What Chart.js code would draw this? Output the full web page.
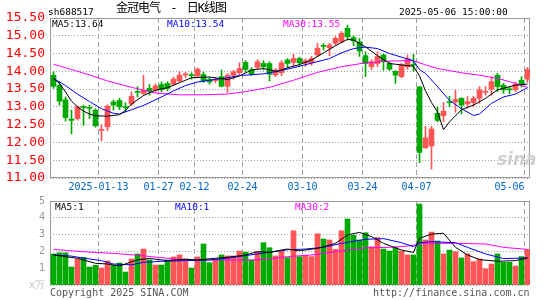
<!DOCTYPE html>
<html>
<head>
<meta charset="utf-8">
<script src="https://cdn.jsdelivr.net/npm/chart.js@4.4.1/dist/chart.umd.min.js"></script>
<style>
body{margin:0;background:#fff}
#wrap{position:relative;width:545px;height:300px;overflow:hidden;background:#fff}
canvas{position:absolute;left:0}
.t{position:absolute;font:9.5px/1 'DejaVu Sans Mono',monospace;white-space:pre;color:#000}
</style>
</head>
<body>
<div id="wrap">
<canvas id="kline" width="545" height="196" style="top:0"></canvas>
<canvas id="vol" width="545" height="110" style="top:190px"></canvas>
<span class="t" style="left:48px;top:7px">sh688517</span>
<span class="t" style="left:116px;top:2px;font:12px/1 'DejaVu Sans Mono','Noto Sans CJK SC';word-spacing:4px;letter-spacing:-1px">金冠电气 - 日K线图</span>
<span class="t" style="left:399px;top:7px">2025-05-06 15:00:00</span>
<span class="t" id="lg5" style="left:52px;top:19px;color:#000"></span>
<span class="t" id="lg10" style="left:167px;top:19px;color:#00f"></span>
<span class="t" id="lg30" style="left:283px;top:19px;color:#f0f"></span>
<span class="t" id="vlg5" style="left:55px;top:202px;color:#000"></span>
<span class="t" id="vlg10" style="left:175px;top:202px;color:#00f"></span>
<span class="t" id="vlg30" style="left:295px;top:202px;color:#f0f"></span>
<span class="t" style="left:497px;top:151px;font:italic bold 17px/1 'DejaVu Sans',sans-serif;color:#cfcfcf">sina</span>
<span class="t" style="left:50px;top:288px;font-size:10px;color:#555">Copyright 2025 SINA.COM</span>
<span class="t" style="left:373px;top:288px;font-size:10px;color:#555">http://finance.sina.com.cn</span>
</div>
<script>
// 日K 数据 (2024-12-31 ~ 2025-05-06)
const opens = [13.89,13.60,13.20,12.66,12.67,13.00,12.98,12.91,12.34,12.44,
  13.14,13.18,13.00,13.08,13.43,13.38,13.52,13.47,13.63,13.66,
  13.64,13.73,13.90,13.90,13.87,13.91,13.77,13.74,13.85,13.58,
  13.89,13.96,14.25,14.04,14.11,14.22,14.22,13.90,13.96,14.32,
  14.25,14.36,14.23,14.24,14.46,14.72,14.66,14.79,14.83,15.21,
  14.95,14.83,14.44,14.13,14.22,14.46,14.22,14.00,13.85,14.13,
  14.19,13.56,11.85,11.90,12.82,12.75,13.14,13.14,13.24,13.08,
  13.12,13.24,13.41,13.50,13.89,13.61,13.50,13.49,13.75,13.78];
const highs = [13.99,13.71,13.28,12.91,13.03,13.05,13.05,12.95,12.50,13.06,
  13.19,13.24,13.12,13.42,13.57,13.89,13.63,13.65,13.70,13.71,
  13.84,13.99,13.97,13.96,14.10,13.98,13.83,13.82,14.04,13.94,
  14.03,14.24,14.30,14.10,14.33,14.30,14.27,14.08,14.30,14.36,
  14.48,14.40,14.35,14.42,14.79,14.78,14.79,14.98,15.12,15.30,
  15.00,14.93,14.55,14.33,14.55,14.48,14.27,14.02,14.22,14.46,
  14.48,13.58,12.45,12.45,13.00,13.12,13.30,13.47,13.26,13.29,
  13.30,13.57,13.57,13.85,13.94,13.66,13.57,13.70,13.85,14.11];
const lows = [13.52,13.05,12.60,12.24,12.63,12.48,12.67,12.43,12.05,12.33,
  12.91,12.92,12.86,13.05,13.28,13.35,13.33,13.41,13.42,13.45,
  13.62,13.69,13.82,13.78,13.83,13.69,13.64,13.68,13.56,13.40,
  13.78,13.90,13.98,13.88,14.06,14.04,13.73,13.85,13.88,14.10,
  14.13,14.15,14.14,14.17,14.41,14.60,14.44,14.74,14.80,14.88,
  14.72,14.42,13.85,14.05,14.13,14.03,14.03,13.66,13.82,14.06,
  14.00,11.43,11.83,11.25,12.58,12.58,13.00,12.85,12.80,12.97,
  13.00,13.10,13.33,13.33,13.43,13.38,13.37,13.42,13.56,13.69];
const closes = [13.58,13.16,12.70,12.62,13.00,12.98,12.96,12.47,12.37,13.02,
  13.05,13.00,12.98,13.30,13.41,13.47,13.44,13.59,13.49,13.52,
  13.78,13.89,13.93,13.88,14.06,13.73,13.70,13.76,13.58,13.89,
  13.99,14.08,14.05,13.93,14.27,14.13,13.92,14.04,14.24,14.22,
  14.36,14.24,14.30,14.36,14.65,14.70,14.74,14.93,15.07,14.97,
  14.86,14.57,14.22,14.27,14.42,14.27,14.06,13.89,14.19,14.35,
  14.17,11.72,12.13,12.38,12.62,12.88,13.12,13.21,13.05,13.15,
  13.24,13.48,13.43,13.71,13.57,13.48,13.48,13.64,13.64,14.05];
// 成交量
const volumes = [1.85,1.92,1.92,1.07,1.55,1.65,1.07,1.17,1.01,1.43,
  1.17,1.31,0.77,1.55,1.85,2.14,1.49,1.19,1.19,1.49,
  1.67,1.79,1.55,1.01,1.67,2.44,1.33,1.51,1.79,1.73,
  1.73,2.02,1.96,1.49,1.99,2.52,2.22,1.73,2.04,1.63,
  3.23,1.69,1.77,1.69,3.05,2.74,2.68,2.12,3.23,3.93,
  2.96,2.68,3.11,2.28,2.82,2.14,2.02,2.22,2.02,1.79,
  1.79,4.82,2.68,3.15,2.62,1.85,2.08,1.98,1.61,1.85,
  1.39,1.55,0.97,1.25,1.85,1.35,1.35,1.13,1.69,2.12];

// 均线 [index, value]
const ma5 = [[0,13.80],[1,13.66],[2,13.42],[3,13.16],[4,13.00],[5,12.88],[6,12.80],[7,12.75],[9,12.74],
  [11,12.78],[12,12.90],[13,13.08],[15,13.32],[17,13.47],[19,13.54],[21,13.68],[23,13.82],[26,13.84],
  [29,13.77],[31,13.87],[33,14.04],[35,14.08],[37,14.00],[38,14.04],[39,14.10],[41,14.19],[43,14.32],
  [45,14.52],[47,14.72],[49,14.90],[50,14.88],[52,14.69],[54,14.44],[56,14.22],[58,14.18],[60,14.14],
  [61,13.87],[62,13.45],[63,13.12],[64,12.86],[65,12.36],[66,12.58],[68,12.92],[70,13.05],[72,13.24],
  [74,13.48],[77,13.61],[79,13.64]];
const ma10 = [[0,13.80],[2,13.60],[4,13.36],[6,13.15],[8,12.95],[10,12.82],[11,12.80],[13,12.92],[15,13.04],
  [18,13.28],[20,13.45],[22,13.60],[24,13.70],[26,13.75],[29,13.82],[31,13.88],[35,13.93],[37,13.99],
  [40,14.10],[43,14.23],[46,14.36],[48,14.52],[50,14.64],[52,14.68],[54,14.64],[56,14.50],[58,14.40],
  [60,14.30],[61,14.05],[62,13.94],[64,13.57],[66,13.18],[68,12.95],[70,12.76],[71,12.80],[73,13.10],
  [75,13.28],[77,13.36],[79,13.54]];
const ma30 = [[0,14.20],[3,14.05],[6,13.90],[9,13.73],[13,13.55],[17,13.39],[21,13.34],[25,13.34],[29,13.36],
  [32,13.43],[36,13.55],[40,13.75],[44,13.97],[48,14.13],[52,14.24],[56,14.29],[60,14.30],[62,14.18],
  [64,14.08],[66,14.02],[68,13.96],[71,13.89],[74,13.80],[76,13.71],[79,13.55]];
const vma5 = [[0,1.79],[2,1.69],[4,1.59],[7,1.29],[9,1.25],[11,1.13],[14,1.50],[16,1.58],[19,1.45],[22,1.53],
  [24,1.49],[27,1.59],[30,1.69],[32,1.79],[34,1.98],[36,1.94],[38,2.08],[39,2.14],[41,2.04],[44,2.18],
  [47,2.48],[49,2.98],[51,3.13],[53,2.88],[55,2.48],[58,2.08],[60,1.94],[61,2.78],[63,3.03],[65,3.08],
  [67,2.24],[69,1.79],[71,1.51],[74,1.41],[77,1.45],[79,1.61]];
const vma10 = [[0,1.79],[3,1.72],[5,1.60],[8,1.45],[10,1.25],[13,1.20],[15,1.35],[18,1.41],[22,1.45],
  [26,1.49],[29,1.59],[32,1.75],[36,1.95],[39,2.10],[42,2.14],[45,2.24],[48,2.48],[52,2.72],[55,2.76],
  [58,2.52],[60,2.28],[61,2.52],[63,2.58],[67,2.52],[69,2.24],[72,1.85],[75,1.57],[79,1.61]];
const vma30 = [[0,2.12],[5,1.98],[10,1.88],[14,1.77],[19,1.59],[23,1.49],[27,1.49],[33,1.49],[36,1.55],
  [39,1.69],[43,1.79],[47,1.98],[52,2.22],[56,2.24],[59,2.32],[62,2.48],[67,2.48],[72,2.44],[75,2.24],
  [79,2.12]];

// 日期刻度
const tickIdx = [8, 18, 24, 32, 42, 52, 61, 79];
const tickLabels = ['2025-01-13', '01-27', '02-12', '02-24', '03-10', '03-24', '04-07', '05-06     '];

const RED = '#ff5555', GREEN = '#00aa00';
const X_MIN = -0.5 - 0.5 / 6, X_MAX = X_MIN + opens.length;
const candleColors = opens.map((o, i) => closes[i] >= o ? RED : GREEN);
const pts = arr => arr.map(([x, y]) => ({ x, y }));
const last = arr => arr[arr.length - 1][1];

document.getElementById('lg5').textContent = 'MA5:' + last(ma5).toFixed(2);
document.getElementById('lg10').textContent = 'MA10:' + last(ma10).toFixed(2);
document.getElementById('lg30').textContent = 'MA30:' + last(ma30).toFixed(2);
document.getElementById('vlg5').textContent = 'MA5:' + Math.floor(last(vma5));
document.getElementById('vlg10').textContent = 'MA10:' + Math.floor(last(vma10));
document.getElementById('vlg30').textContent = 'MA30:' + Math.floor(last(vma30));

// 边框
const frame = {
  id: 'frame',
  beforeDatasetsDraw(chart) {
    const { ctx, chartArea: a } = chart;
    ctx.save();
    ctx.strokeStyle = '#999';
    ctx.lineWidth = 1;
    ctx.strokeRect(a.left + 0.5, a.top + 0.5, a.width - 1, a.height - 1);
    ctx.restore();
  }
};

function maLine(data, color, order) {
  return { type: 'line', data: pts(data), borderColor: color, borderWidth: 1,
    pointRadius: 0, tension: 0, order: order };
}

function xScale(showLabels, h) {
  return {
    type: 'linear', min: X_MIN, max: X_MAX, bounds: 'data', offset: false,
    afterBuildTicks: s => { s.ticks = tickIdx.map(i => ({ value: i - 0.5 })); },
    afterFit: s => { s.height = h; s.paddingLeft = 0; s.paddingRight = 0; },
    grid: { color: '#a0a0a0', lineWidth: 1, drawTicks: false, offset: false },
    border: { display: false, dash: [5, 3] },
    ticks: {
      display: showLabels, autoSkip: false, maxRotation: 0, padding: 3,
      color: '#0066cc', font: { family: 'DejaVu Sans Mono', size: 10 },
      callback: (v, i) => tickLabels[i]
    }
  };
}

// K线图
new Chart(document.getElementById('kline'), {
  type: 'bar',
  data: {
    datasets: [
      maLine(ma5, '#000000', 0),
      maLine(ma10, '#0000ff', 1),
      maLine(ma30, '#ff00ff', 2),
      {
        data: opens.map((o, i) => ({ x: i, y: [o, closes[i]] })),
        backgroundColor: candleColors, barThickness: 5, minBarLength: 1,
        grouped: false, order: 3
      },
      {
        data: lows.map((l, i) => ({ x: i, y: [l, highs[i]] })),
        backgroundColor: candleColors, barThickness: 1,
        grouped: false, order: 4
      }
    ]
  },
  options: {
    responsive: false, animation: false,
    layout: { padding: { top: 18, right: 15, left: 0, bottom: 0 } },
    plugins: { legend: { display: false }, tooltip: { enabled: false } },
    scales: {
      x: xScale(true, 18),
      y: {
        min: 11, max: 15.5,
        afterFit: s => { s.width = 50; s.paddingTop = 0; s.paddingBottom = 0; },
        grid: { color: '#a0a0a0', drawTicks: false },
        border: { display: false, dash: [1, 2] },
        ticks: {
          stepSize: 0.5, padding: 5, autoSkip: false, color: '#ff0000',
          font: { family: 'DejaVu Sans Mono', size: 13 },
          callback: v => v.toFixed(2)
        }
      }
    }
  },
  plugins: [frame]
});

// 成交量
new Chart(document.getElementById('vol'), {
  type: 'bar',
  data: {
    datasets: [
      maLine(vma5, '#000000', 0),
      maLine(vma10, '#0000ff', 1),
      maLine(vma30, '#ff00ff', 2),
      {
        data: volumes.map((v, i) => ({ x: i, y: v })),
        backgroundColor: candleColors, barThickness: 5,
        grouped: false, order: 3
      }
    ]
  },
  options: {
    responsive: false, animation: false,
    layout: { padding: { top: 11, right: 15, left: 0, bottom: 15 } },
    plugins: { legend: { display: false }, tooltip: { enabled: false } },
    scales: {
      x: xScale(false, 0),
      y: {
        min: 0, max: 5,
        afterFit: s => { s.width = 50; s.paddingTop = 0; s.paddingBottom = 0; },
        grid: { color: '#a0a0a0', drawTicks: false },
        border: { display: false, dash: [1, 2] },
        ticks: {
          stepSize: 1, padding: 5, autoSkip: false,
          color: c => c.tick.value === 0 ? '#c0c0c0' : '#999999',
          font: { family: 'DejaVu Sans Mono', size: 10 },
          callback: v => v === 0 ? 'x万' : String(v)
        }
      }
    }
  },
  plugins: [frame]
});
</script>
</body>
</html>
